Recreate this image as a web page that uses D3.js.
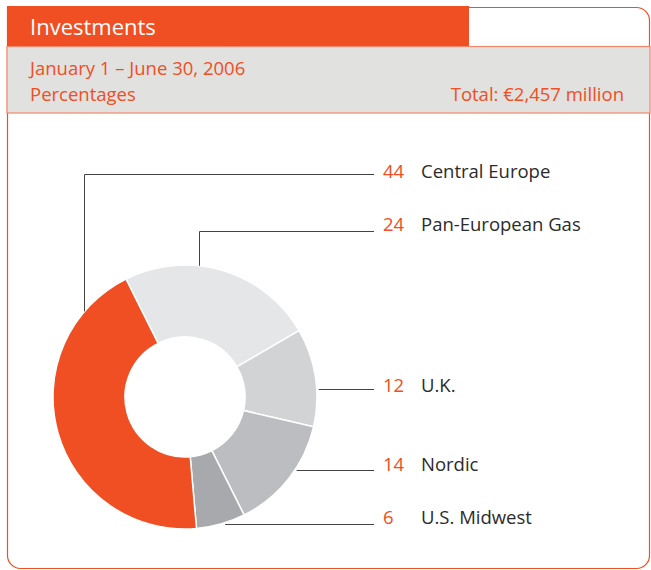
<!DOCTYPE html>
<html>
<head>
<meta charset="utf-8">
<script src="https://cdn.jsdelivr.net/npm/d3@7"></script>
<style>
  body { margin: 0; background: #fff; }
  svg text { font-family: "Open Sans", sans-serif; }
</style>
</head>
<body>
<div class="chart"></div>
<script>
// Data
var regions = ["Pan-European Gas", "U.K.", "Nordic", "U.S. Midwest", "Central Europe"];
var shares = [24, 12, 14, 6, 44];
var sliceColors = ["#e5e6e8", "#d2d3d5", "#bcbdc0", "#a7a9ac", "#f04e23"];
// label order top to bottom
var labelOrder = ["Central Europe", "Pan-European Gas", "U.K.", "Nordic", "U.S. Midwest"];

var title = "Investments";
var period = "January 1 \u2013 June 30, 2006";
var unitText = "Percentages";
var totalText = "Total: \u20ac2,457 million";

var svgWidth = 651;
var svgHeight = 570;
var orange = "#f04e23";

var svg = d3.select(".chart")
  .append("svg")
  .attr("width", svgWidth)
  .attr("height", svgHeight);

// Frame
var fx0 = 7.5, fx1 = 649.5, fy0 = 7.5, fy1 = 568.5, rr = 13;
svg.append("path")
  .attr("d", "M" + fx0 + "," + fy0 + " H" + (fx1 - rr) +
    " A" + rr + "," + rr + " 0 0 1 " + fx1 + "," + (fy0 + rr) +
    " V" + (fy1 - rr) +
    " A" + rr + "," + rr + " 0 0 1 " + (fx1 - rr) + "," + fy1 +
    " H" + (fx0 + rr) +
    " A" + rr + "," + rr + " 0 0 1 " + fx0 + "," + (fy1 - rr) + " Z")
  .attr("fill", "none")
  .attr("stroke", orange)
  .attr("stroke-width", 1.2);

// Grey band
svg.append("rect")
  .attr("x", 7).attr("y", 46.5)
  .attr("width", 643).attr("height", 66.5)
  .attr("fill", "#e1e1df")
  .attr("stroke", "#f3876b")
  .attr("stroke-width", 1.2);

// Orange header
svg.append("rect")
  .attr("x", 7).attr("y", 6)
  .attr("width", 462).attr("height", 40)
  .attr("fill", orange);

svg.append("text")
  .attr("x", 30).attr("y", 35)
  .attr("fill", "#fff")
  .style("font-size", "22px")
  .text(title);

svg.append("text")
  .attr("x", 30).attr("y", 75)
  .attr("fill", orange)
  .style("font-size", "18.5px")
  .text(period);

svg.append("text")
  .attr("x", 30).attr("y", 101)
  .attr("fill", orange)
  .style("font-size", "18.5px")
  .text(unitText);

svg.append("text")
  .attr("x", 624).attr("y", 101)
  .attr("fill", orange)
  .attr("text-anchor", "end")
  .style("font-size", "18.5px")
  .text(totalText);

// Donut
var cx = 185, cy = 397;
var outerR = 132, innerR = 60;
var startDeg = -26.6;

var pieData = regions.map(function(r, i) {
  return { region: r, value: shares[i], color: sliceColors[i] };
});

var pie = d3.pie()
  .sort(null)
  .value(function(d) { return d.value; })
  .startAngle(startDeg * Math.PI / 180)
  .endAngle(startDeg * Math.PI / 180 + 2 * Math.PI);

var arc = d3.arc().innerRadius(innerR).outerRadius(outerR);

var donut = svg.append("g")
  .attr("transform", "translate(" + cx + "," + cy + ")");

donut.selectAll("path")
  .data(pie(pieData))
  .enter()
  .append("path")
  .attr("d", arc)
  .attr("fill", function(d) { return d.data.color; })
  .attr("stroke", "#fff")
  .attr("stroke-width", 1.5);

// Labels and leader lines
var lineYs = { "Central Europe": 174, "Pan-European Gas": 231, "U.K.": 389, "Nordic": 470, "U.S. Midwest": 524 };
var textYs = { "Central Europe": 178, "Pan-European Gas": 231, "U.K.": 392, "Nordic": 471, "U.S. Midwest": 524 };
// vertical leaders attach at given x, horizontal ones at circle edge
var leaderX = { "Central Europe": 84, "Pan-European Gas": 199 };
var lineEnd = 374;

labelOrder.forEach(function(name) {
  var d = pieData.find(function(p) { return p.region === name; });
  var y = lineYs[name] + 0.5;
  var pts;
  if (leaderX[name] !== undefined) {
    var x = leaderX[name] + 0.5;
    var dy = Math.sqrt(outerR * outerR - (x - cx) * (x - cx));
    pts = [[x, cy - dy], [x, y], [lineEnd, y]];
  } else {
    var ddy = y - cy;
    var dx = Math.sqrt(outerR * outerR - ddy * ddy);
    pts = [[cx + dx + (name === "U.S. Midwest" ? 6 : 2), y], [lineEnd, y]];
  }
  svg.append("path")
    .attr("d", d3.line()(pts))
    .attr("fill", "none")
    .attr("stroke", "#444")
    .attr("stroke-width", 1);

  svg.append("text")
    .attr("x", 383).attr("y", textYs[name])
    .attr("fill", orange)
    .style("font-size", "18.5px")
    .text(d.value);

  svg.append("text")
    .attr("x", 421).attr("y", textYs[name])
    .attr("fill", "#2b2b2b")
    .style("font-size", "18.5px")
    .text(name);
});
</script>
</body>
</html>
